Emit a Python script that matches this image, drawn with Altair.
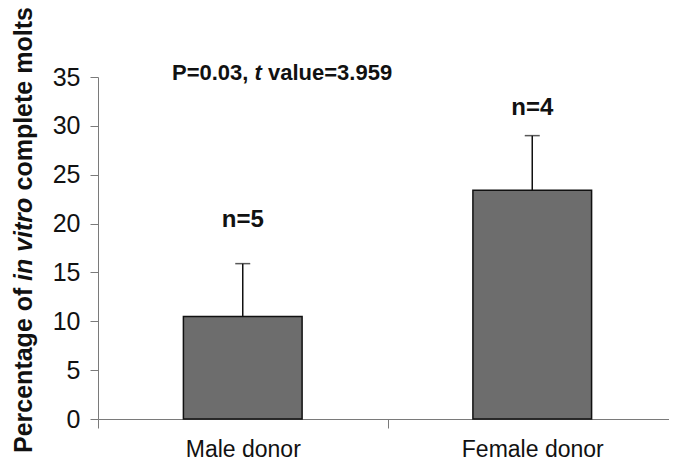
import altair as alt
import pandas as pd

# ---------------- data ----------------
categories = ["Male donor", "Female donor"]
means = [10.5, 23.4]
upper_err = [15.9, 29.0]
n_labels = ["n=5", "n=4"]
y_ticks = [0, 5, 10, 15, 20, 25, 30, 35]
stat_parts = ["P=0.03, ", "t", "value=3.959"]
title_parts = ["Percentage of ", "in vitro", "complete molts"]

# ---------------- layout / style ----------------
FONT = "Liberation Sans"
W, H = 571, 342          # visible plot area (svg must fit inside the page)
X_RANGE = 579            # the category axis runs on past the right edge
AX = "#7a7a7a"
n_label_heights = [20.4, 31.8]  # where the n= labels sit (data units)

df = pd.DataFrame({"group": categories, "mean": means, "upper": upper_err,
                   "n": n_labels, "ny": n_label_heights})

x_enc = alt.X("group:N", sort=categories,
              scale=alt.Scale(domain=categories, paddingInner=0, paddingOuter=0,
                              range=[0, X_RANGE]),
              axis=alt.Axis(title=None, labelAngle=0, labelFontSize=23, labelFont=FONT,
                            labelColor="#111", labelPadding=28, labelBaseline="alphabetic",
                            tickBand="extent", tickSize=9, tickColor=AX, domainColor=AX,
                            labelLimit=300))


def y_enc(field):
    return alt.Y(f"{field}:Q", scale=alt.Scale(domain=[0, 35], nice=False, zero=True),
                 axis=alt.Axis(title=None, values=y_ticks, labelFontSize=25, labelFont=FONT,
                               labelColor="#111", labelPadding=10, tickSize=8,
                               tickColor=AX, domainColor=AX, grid=False))


base = alt.Chart(df)

bars = base.mark_bar(width=alt.RelativeBandSize(0.41), fill="#6d6d6d",
                     stroke="#111", strokeWidth=1.5).encode(x=x_enc, y=y_enc("mean"))
err = base.mark_rule(color="#111", strokeWidth=1.5).encode(
    x=x_enc, y=y_enc("mean"), y2="upper:Q")
cap = base.mark_tick(color="#111", thickness=1.5, size=15).encode(x=x_enc, y=y_enc("upper"))
nlab = base.mark_text(font=FONT, fontSize=24, fontWeight="bold", color="#111",
                      baseline="middle").encode(x=x_enc, y=y_enc("ny"), text="n:N")


def label(text, x, y, size, italic=False, angle=0):
    kw = dict(font=FONT, fontSize=size, fontWeight="bold", color="#111",
              align="left", baseline="alphabetic")
    if italic:
        kw["fontStyle"] = "italic"
    if angle:
        kw["angle"] = angle
    return alt.Chart(pd.DataFrame({"t": [text]})).mark_text(**kw).encode(
        text="t:N", x=alt.value(x), y=alt.value(y))


stat = (label(stat_parts[0], 74, 3, 22)
        + label(stat_parts[1], 156.6, 3, 22, italic=True)
        + label(stat_parts[2], 170, 3, 22))

ytitle = (label(title_parts[0], -66, 376, 25, angle=270)
          + label(title_parts[1], -66, 204, 25, italic=True, angle=270)
          + label(title_parts[2], -66, 113.5, 25, angle=270))

chart = alt.layer(bars, err, cap, nlab, stat, ytitle).properties(
    width=W, height=H,
    autosize=alt.AutoSizeParams(type="none"),
    padding={"left": 90, "top": 69, "right": 0, "bottom": 42},
    background="white",
).configure_view(stroke=None)

chart.save("out.html", embed_options={"renderer": "svg", "actions": False})
